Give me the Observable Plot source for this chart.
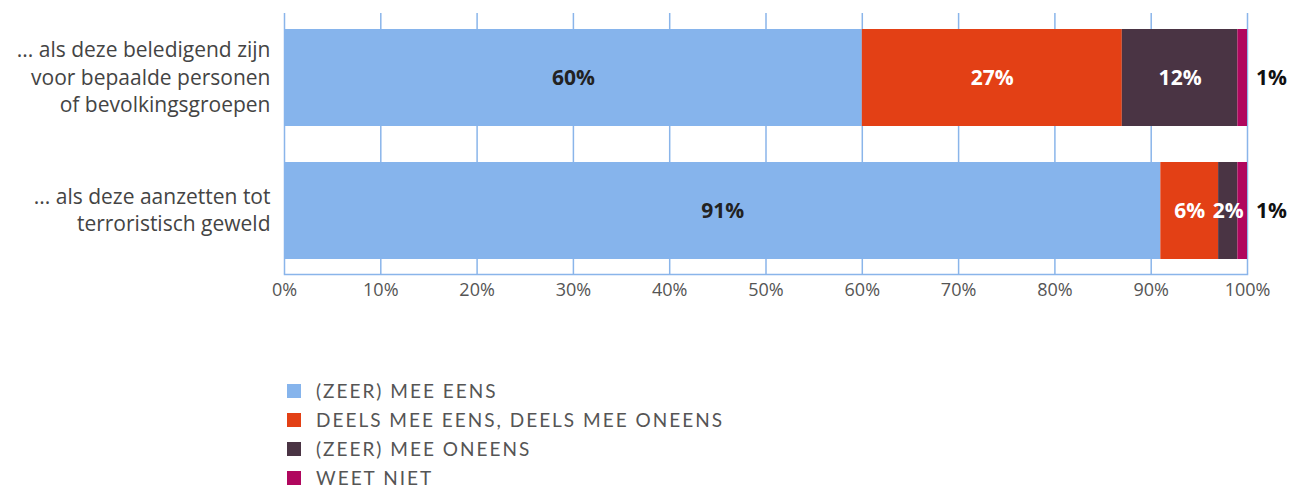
<!DOCTYPE html>
<html>
<head>
<meta charset="utf-8">
<script src="https://cdn.jsdelivr.net/npm/d3@7"></script>
<script src="https://cdn.jsdelivr.net/npm/@observablehq/plot@0.6"></script>
<style>
  body { margin: 0; background: #fff; font-family: "Open Sans", Lato, sans-serif; }
  #legend { margin: 56px 0 0 287px; }
  .item { display: flex; align-items: center; height: 29px; }
  .sw { width: 14px; height: 14px; margin-right: 15px; flex: none; }
  .lab { font-family: Lato, sans-serif; font-size: 19px; letter-spacing: 2px; color: #555; line-height: 22px; }
</style>
</head>
<body>
<div id="chart"></div>
<div id="legend"></div>
<script>
const questions = [
  "... als deze beledigend zijn\nvoor bepaalde personen\nof bevolkingsgroepen",
  "... als deze aanzetten tot\nterroristisch geweld"
];
const categories = [
  "(ZEER) MEE EENS",
  "DEELS MEE EENS, DEELS MEE ONEENS",
  "(ZEER) MEE ONEENS",
  "WEET NIET"
];
const valuesQ1 = [60, 27, 12, 1];
const valuesQ2 = [91, 6, 2, 1];
const colors = ["#86b4ec", "#e34015", "#4a3444", "#b0075e"];
const labelColors = ["#222222", "#ffffff", "#ffffff", "#111111"];
const xTicks = [0, 10, 20, 30, 40, 50, 60, 70, 80, 90, 100];

const series = [valuesQ1, valuesQ2];
const data = [];
questions.forEach((q, qi) => {
  categories.forEach((c, ci) => {
    data.push({q, cat: c, ci, value: series[qi][ci]});
  });
});

const inside = data.filter(d => d.ci < 3);
const outside = data.filter(d => d.ci === 3);

const chart = Plot.plot({
  width: 1301,
  height: 320,
  marginLeft: 284,
  marginRight: 54,
  marginTop: 13,
  marginBottom: 46,
  style: {fontFamily: "'Open Sans', Lato, sans-serif", background: "#fff"},
  x: {domain: [0, 100], ticks: xTicks, tickFormat: d => d + "%", label: null},
  y: {domain: questions, paddingInner: 0.273, paddingOuter: 0.114, axis: null},
  color: {domain: categories, range: colors},
  marks: [
    Plot.gridX(xTicks, {stroke: "#8ab5ea", strokeOpacity: 1, strokeWidth: 1.5}),
    Plot.frame({anchor: "bottom", stroke: "#8ab5ea", strokeWidth: 1.5}),
    Plot.barX(data, Plot.stackX({x: "value", y: "q", fill: "cat", order: null})),
    Plot.text(inside, Plot.stackX({
      x: "value", y: "q", z: "cat", order: null,
      text: d => d.value + "%",
      fill: d => labelColors[d.ci],
      fontSize: 21, fontWeight: "bold"
    })),
    Plot.text(outside, {
      x: 100, y: "q", text: d => d.value + "%",
      dx: 24, fill: "#111", fontSize: 21, fontWeight: "bold"
    }),
    Plot.text(questions, {
      x: 0, y: d => d, text: d => d,
      textAnchor: "end", dx: -14, dy: -2, lineHeight: 1.3,
      fontSize: 21, fill: "#444"
    }),
    Plot.axisX(xTicks, {tickSize: 0, tickPadding: 9, fontSize: 18, fill: "#555", tickFormat: d => d + "%", label: null})
  ]
});
document.getElementById("chart").append(chart);

const legend = document.getElementById("legend");
categories.forEach((c, i) => {
  const item = document.createElement("div");
  item.className = "item";
  const sw = document.createElement("span");
  sw.className = "sw";
  sw.style.background = colors[i];
  const lab = document.createElement("span");
  lab.className = "lab";
  lab.textContent = c;
  item.append(sw, lab);
  legend.append(item);
});
</script>
</body>
</html>
